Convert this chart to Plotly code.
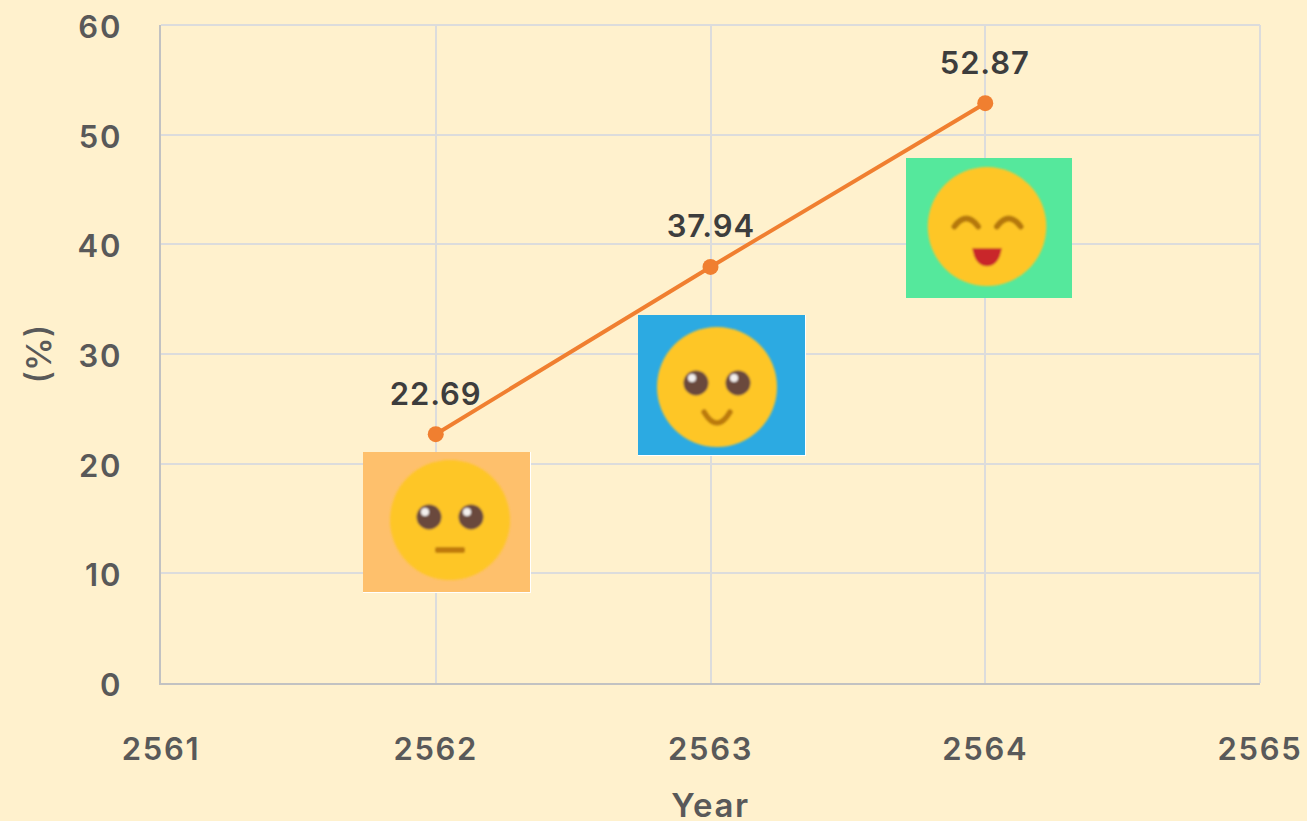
import base64
import plotly.graph_objects as go

years = [2562, 2563, 2564]
values = [22.69, 37.94, 52.87]
x_ticks = [2561, 2562, 2563, 2564, 2565]
y_ticks = [0, 10, 20, 30, 40, 50, 60]

W, H = 1307, 821
L, R, T, B = 161, 1260, 25, 683
FONT = "Inter, Roboto, sans-serif"
YEL = "#fec627"
BRN = "#6b4a3e"
BG = "#fff1cd"


def eyes(x1, x2, y):
    out = ""
    for x in (x1, x2):
        out += f'<circle cx="{x}" cy="{y}" r="12.5" fill="{BRN}"/><circle cx="{x-4}" cy="{y-5}" r="4" fill="#f4f0ee"/>'
    return out


def face(bg, inner, cx, cy, edge=True):
    e = '<rect x="0" y="140" width="168" height="1.5" fill="#ffffff"/><rect x="167" y="0" width="1.5" height="141" fill="#ffffff"/>' if edge else ""
    svg = (
        '<svg xmlns="http://www.w3.org/2000/svg" width="168" height="141" viewBox="0 0 168 141">'
        '<defs><filter id="b" x="-5%" y="-5%" width="110%" height="110%"><feGaussianBlur stdDeviation="0.9"/></filter></defs>'
        f'<rect width="168" height="141" fill="{bg}"/>{e}'
        f'<g filter="url(#b)"><circle cx="{cx}" cy="{cy}" r="60" fill="{YEL}"/>{inner}</g></svg>'
    )
    return "data:image/svg+xml;base64," + base64.b64encode(svg.encode()).decode()


neutral = face("#fec06c", eyes(66, 108, 65) +
               '<rect x="72" y="95" width="30" height="6" rx="2" fill="#bf7a10"/>', 87, 68)
smile = face("#2caae2", eyes(58, 100, 68) +
             '<path d="M66 97 Q79 119 92 97" stroke="#bb7a10" stroke-width="5.5" fill="none" stroke-linecap="round"/>', 79, 72)
happy = face("#55e89c",
             '<path d="M49 69 Q61 53 73 69" stroke="#b5780f" stroke-width="6" fill="none" stroke-linecap="round"/>'
             '<path d="M92 69 Q104 53 116 69" stroke="#b5780f" stroke-width="6" fill="none" stroke-linecap="round"/>'
             '<path d="M67 91 L97 91 Q94 109 82 109 Q70 109 67 91 Z" fill="#c9282a"/>', 82, 69, edge=False)

images = []
for src, px, py, bw, bh in [(neutral, 363, 452, 168, 141), (smile, 638, 315, 168, 141), (happy, 906, 158, 166, 140)]:
    images.append(dict(source=src, xref="paper", yref="paper",
                       x=(px - L) / (R - L), y=(B - py) / (B - T),
                       sizex=bw / (R - L), sizey=bh / (B - T),
                       xanchor="left", yanchor="top", sizing="stretch", layer="above"))

fig = go.Figure(go.Scatter(
    x=years, y=values, mode="lines+markers", cliponaxis=False,
    line=dict(color="#f07f30", width=4),
    marker=dict(color="#f07f30", size=16),
    hoverinfo="x+y",
))

for xv, yv in zip(years, values):
    fig.add_annotation(x=xv, y=yv, text=f"{yv:.2f}", showarrow=False, yshift=41,
                       font=dict(family=FONT, size=31, color="#3d3d3d", weight=600))

tickfont = dict(family=FONT, size=31, color="#595959", weight=600)
fig.update_layout(
    width=W, height=H, autosize=False, showlegend=False,
    paper_bgcolor=BG, plot_bgcolor=BG,
    margin=dict(l=L, r=W - R, t=T, b=H - B, pad=0),
    images=images,
    xaxis=dict(range=[2561, 2565], tickmode="array", tickvals=x_ticks, ticktext=[str(v) for v in x_ticks],
               showgrid=True, gridcolor="#dcdcdc", gridwidth=2, zeroline=False, automargin=False,
               showline=True, linecolor="#c2c2c2", linewidth=1.5, mirror=False,
               ticks="", ticklabelstandoff=38, tickfont=tickfont,
               title=dict(text="Year", standoff=32, font=dict(family=FONT, size=33, color="#595959", weight=600))),
    yaxis=dict(range=[0, 60], tickmode="array", tickvals=y_ticks, ticktext=[str(v) for v in y_ticks],
               showgrid=True, gridcolor="#dcdcdc", gridwidth=2, zeroline=False, automargin=False,
               showline=True, linecolor="#c2c2c2", linewidth=1.5,
               ticks="", ticklabelstandoff=31, tickfont=tickfont,
               title=dict(text="(%)", standoff=19, font=dict(family=FONT, size=34, color="#595959", weight=500))),
    shapes=[dict(type="line", xref="paper", yref="paper", x0=0, x1=1, y0=1, y1=1, line=dict(color="#dcdcdc", width=2)),
            dict(type="line", xref="paper", yref="paper", x0=1, x1=1, y0=0, y1=1, line=dict(color="#dcdcdc", width=2))],
)
css = (".xtick text{letter-spacing:1.7px}"
       ".annotation-text{letter-spacing:0.9px}"
       ".ytick text{letter-spacing:1.7px;baseline-shift:-2px}"
       ".xtitle{letter-spacing:1.6px;baseline-shift:-4px}"
       "html,body{margin:0;padding:0;overflow:hidden;background:%s}" % BG)
post = ("var s=document.createElement('style');s.textContent=%r;document.head.appendChild(s);" % css)
fig.write_html("out.html", config=dict(displayModeBar=False), post_script=post)
